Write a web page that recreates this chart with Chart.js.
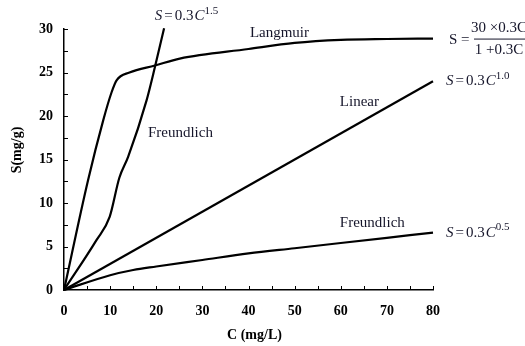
<!DOCTYPE html>
<html lang="en">
<head>
    <meta charset="UTF-8">
    <title>Adsorption isotherms</title>
    <script src="https://cdn.jsdelivr.net/npm/chart.js"></script>
    <style>
        body { margin: 0; background: #fff; }
    </style>
</head>
<body>
    <canvas id="isoChart" width="525" height="346"></canvas>
    <script>
        // C (mg/L) and S (mg/g) for each isotherm
        const cLangmuir = [0, 5.2, 8.5, 10.3, 11.4, 14.2, 19.7, 25.1, 40, 50, 60, 70, 80];
        const sLangmuir = [0, 12.6, 19.5, 22.7, 24.1, 25.0, 25.8, 26.6, 27.7, 28.4, 28.75, 28.85, 28.9];

        const cFreund15 = [0, 7.0, 9.9, 12.0, 13.9, 17.9, 19.7, 21.7];
        const sFreund15 = [0, 5.7, 8.4, 12.9, 15.3, 21.8, 25.6, 30.1];

        const cLinear = [0, 80];
        const sLinear = [0, 24];

        const cFreund05 = [0, 10, 15, 20, 30, 40, 50, 60, 70, 80];
        const sFreund05 = [0, 1.7, 2.3, 2.7, 3.45, 4.2, 4.8, 5.4, 6.0, 6.6];

        const xTicks = [0, 10, 20, 30, 40, 50, 60, 70, 80];
        const yTicks = [0, 5, 10, 15, 20, 25, 30];

        const SERIF = '"Liberation Serif", "Times New Roman", serif';
        const INK = '#15152a';

        function toPoints(xs, ys) {
            return xs.map((x, i) => ({ x: x, y: ys[i] }));
        }

        function line(xs, ys) {
            return {
                data: toPoints(xs, ys),
                showLine: true,
                borderColor: '#000',
                borderWidth: 2.2,
                pointRadius: 0,
                cubicInterpolationMode: 'monotone',
                clip: false
            };
        }

        // S = 0.3C^n with italic S and C
        function drawPower(ctx, x, y, exp) {
            ctx.textBaseline = 'middle';
            ctx.textAlign = 'left';
            ctx.font = 'italic 15px ' + SERIF;
            ctx.fillText('S', x, y);
            x += ctx.measureText('S').width + 2;
            ctx.font = '15px ' + SERIF;
            ctx.fillText('=', x, y);
            x += ctx.measureText('=').width + 2;
            ctx.fillText('0.3', x, y);
            x += ctx.measureText('0.3').width + 1;
            ctx.font = 'italic 15px ' + SERIF;
            ctx.fillText('C', x, y);
            x += ctx.measureText('C').width;
            ctx.font = '11px ' + SERIF;
            ctx.fillText(exp, x, y - 5);
        }

        function drawLangmuirEq(ctx, x, y) {
            ctx.textBaseline = 'middle';
            ctx.textAlign = 'left';
            ctx.font = '15px ' + SERIF;
            ctx.fillText('S =', x + 3, y + 1);
            const fx = x + 28;
            ctx.textAlign = 'center';
            ctx.fillText('30 \u00d70.3C', fx + 25, y - 11);
            ctx.fillText('1 +0.3C', fx + 25, y + 11);
            ctx.fillRect(fx, y, 52, 1);
        }

        const textLabels = [
            { text: 'Langmuir', c: 40.3, s: 29.5 },
            { text: 'Freundlich', c: 18.2, s: 18.0 },
            { text: 'Linear', c: 59.8, s: 21.6 },
            { text: 'Freundlich', c: 59.8, s: 7.7 }
        ];

        const decorations = {
            id: 'decorations',
            afterDraw(chart) {
                const ctx = chart.ctx;
                const xs = chart.scales.x, ys = chart.scales.y;
                const area = chart.chartArea;
                ctx.save();

                // inward tick marks, every 5 on C and every 2.5 on S
                ctx.strokeStyle = '#000';
                ctx.lineWidth = 1;
                for (let v = 5; v <= 80; v += 5) {
                    const px = Math.round(xs.getPixelForValue(v)) + 0.5;
                    ctx.beginPath();
                    ctx.moveTo(px, area.bottom);
                    ctx.lineTo(px, area.bottom - 4);
                    ctx.stroke();
                }
                for (let v = 2.5; v <= 30; v += 2.5) {
                    const py = Math.round(ys.getPixelForValue(v)) + 0.5;
                    ctx.beginPath();
                    ctx.moveTo(area.left, py);
                    ctx.lineTo(area.left + 4, py);
                    ctx.stroke();
                }

                // curve names
                ctx.fillStyle = INK;
                ctx.font = '15px ' + SERIF;
                ctx.textAlign = 'left';
                ctx.textBaseline = 'middle';
                textLabels.forEach(l => {
                    ctx.fillText(l.text, xs.getPixelForValue(l.c), ys.getPixelForValue(l.s));
                });

                // equations next to each curve
                const rx = area.right + 13;
                drawPower(ctx, xs.getPixelForValue(19.7), ys.getPixelForValue(31.5), '1.5');
                drawLangmuirEq(ctx, rx, ys.getPixelForValue(sLangmuir[sLangmuir.length - 1]));
                drawPower(ctx, rx, ys.getPixelForValue(sLinear[sLinear.length - 1]), '1.0');
                drawPower(ctx, rx, ys.getPixelForValue(sFreund05[sFreund05.length - 1]), '0.5');

                // axis titles
                ctx.fillStyle = '#000';
                ctx.font = 'bold 14px ' + SERIF;
                ctx.textAlign = 'center';
                ctx.fillText('C (mg/L)', (area.left + area.right) / 2 + 6, 335);
                ctx.translate(17, 150);
                ctx.rotate(-Math.PI / 2);
                ctx.fillText('S(mg/g)', 0, 0);
                ctx.restore();
            }
        };

        new Chart(document.getElementById('isoChart'), {
            type: 'scatter',
            data: {
                datasets: [
                    line(cLangmuir, sLangmuir),
                    line(cFreund15, sFreund15),
                    line(cLinear, sLinear),
                    line(cFreund05, sFreund05)
                ]
            },
            options: {
                responsive: false,
                animation: false,
                layout: { padding: { top: 29, right: 92, left: 0, bottom: 0 } },
                plugins: {
                    legend: { display: false },
                    tooltip: { enabled: false }
                },
                scales: {
                    x: {
                        type: 'linear',
                        min: 0,
                        max: 80,
                        afterFit: s => { s.height = 56; },
                        afterBuildTicks: s => { s.ticks = xTicks.map(v => ({ value: v })); },
                        grid: { display: false, drawTicks: false },
                        border: { display: true, color: '#000', width: 1.5 },
                        ticks: {
                            padding: 13,
                            color: '#000',
                            autoSkip: false,
                            maxRotation: 0,
                            font: { family: SERIF, size: 14, weight: 'bold' }
                        }
                    },
                    y: {
                        min: 0,
                        max: 30,
                        afterFit: s => { s.width = 64; },
                        afterBuildTicks: s => { s.ticks = yTicks.map(v => ({ value: v })); },
                        grid: { display: false, drawTicks: false },
                        border: { display: true, color: '#000', width: 1.5 },
                        ticks: {
                            padding: 11,
                            color: '#000',
                            autoSkip: false,
                            font: { family: SERIF, size: 14, weight: 'bold' }
                        }
                    }
                }
            },
            plugins: [decorations]
        });
    </script>
</body>
</html>
